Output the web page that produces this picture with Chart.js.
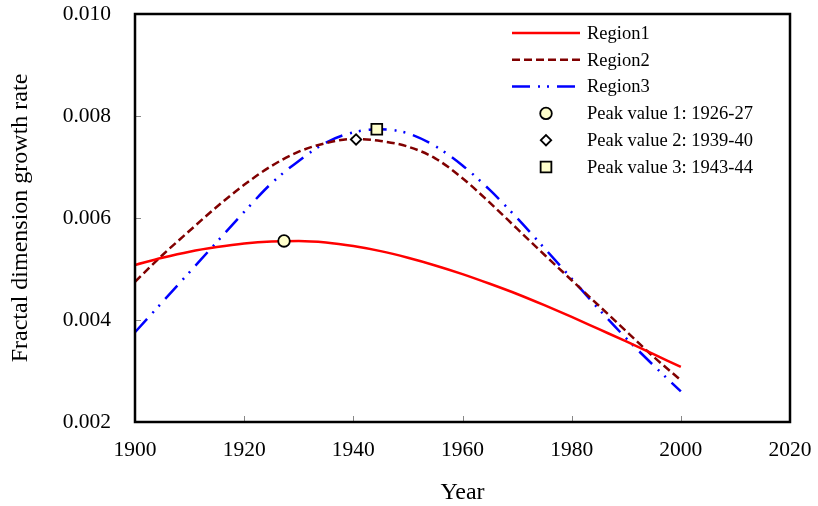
<!DOCTYPE html>
<html>
<head>
<meta charset="utf-8">
<title>Fractal dimension growth rate</title>
<script src="https://cdn.jsdelivr.net/npm/chart.js@4.4.1/dist/chart.umd.min.js"></script>
<style>
    html, body { margin: 0; padding: 0; background: #fff; }
    #wrap { width: 818px; height: 506px; }
</style>
</head>
<body>
<div id="wrap"><canvas id="growthChart" width="818" height="506"></canvas></div>
<script>
// Values
const years = [1900, 1905, 1910, 1915, 1920, 1925, 1930, 1935, 1940, 1945, 1950,
               1955, 1960, 1965, 1970, 1975, 1980, 1985, 1990, 1995, 2000];
const region1 = [0.00508, 0.00522, 0.00534, 0.00543, 0.00550, 0.00554, 0.00555, 0.00552, 0.00545, 0.00535, 0.00522,
                 0.00507, 0.00490, 0.00471, 0.00451, 0.00429, 0.00406, 0.00382, 0.00358, 0.00333, 0.00308];
const region2 = [0.00475, 0.00527, 0.00575, 0.00622, 0.00665, 0.00702, 0.00730, 0.00747, 0.00755, 0.00751, 0.00740,
                 0.00717, 0.00678, 0.00630, 0.00579, 0.00528, 0.00478, 0.00428, 0.00378, 0.00328, 0.00282];
const region3 = [0.00376, 0.00435, 0.00494, 0.00553, 0.00612, 0.00668, 0.00712, 0.00748, 0.00768, 0.00774, 0.00766,
                 0.00741, 0.00703, 0.00655, 0.00600, 0.00541, 0.00481, 0.00421, 0.00364, 0.00311, 0.00260];
const peakYears = [1927.3, 1940.5, 1944.3];
const peakValues = [0.00555, 0.00754, 0.00774];
const seriesLabels = ['Region1', 'Region2', 'Region3'];
const peakLabels = ['Peak value 1: 1926-27', 'Peak value 2: 1939-40', 'Peak value 3: 1943-44'];
const xTicks = [1900, 1920, 1940, 1960, 1980, 2000, 2020];
const yTicks = [0.002, 0.004, 0.006, 0.008, 0.010];

const serif = '"Liberation Serif", "Times New Roman", serif';

const toPoints = (xs, ys) => xs.map((x, i) => ({ x: x, y: ys[i] }));

const lineStyle = (label, values, color, dash) => ({
    label: label,
    data: toPoints(years, values),
    borderColor: color,
    backgroundColor: color,
    borderWidth: 2.5,
    borderDash: dash,
    pointRadius: 0,
    fill: false,
    cubicInterpolationMode: 'monotone',
    order: 2
});

const peakStyle = (i, style, radius, fill) => ({
    label: peakLabels[i],
    data: [{ x: peakYears[i], y: peakValues[i] }],
    showLine: false,
    pointStyle: style,
    pointRadius: radius,
    pointBackgroundColor: fill,
    pointBorderColor: '#000',
    pointBorderWidth: 1.8,
    order: 1
});

const datasets = [
    lineStyle(seriesLabels[0], region1, '#ff0000', []),
    lineStyle(seriesLabels[1], region2, '#800000', [8, 4]),
    lineStyle(seriesLabels[2], region3, '#0000ff', [18, 8, 2, 7, 2, 8]),
    peakStyle(0, 'circle', 5.8, '#ffffcc'),
    peakStyle(1, 'rectRot', 5.2, '#ffffff'),
    peakStyle(2, 'rect', 7.6, '#ffffcc')
];

// drop the extra room chart.js keeps for edge labels
const noEdgePadding = s => {
    s.paddingTop = 0;
    s.paddingBottom = 0;
    s.paddingLeft = 0;
    s.paddingRight = 0;
};

// box round the plot area with short inward ticks
const framePlugin = {
    id: 'frame',
    afterDraw(chart) {
        const { ctx, chartArea: a, scales } = chart;
        ctx.save();
        ctx.strokeStyle = '#888';
        ctx.lineWidth = 1;
        scales.x.ticks.forEach(t => {
            const px = Math.round(scales.x.getPixelForValue(t.value)) + 0.5;
            ctx.beginPath();
            ctx.moveTo(px, a.bottom);
            ctx.lineTo(px, a.bottom - 6);
            ctx.stroke();
        });
        scales.y.ticks.forEach(t => {
            const py = Math.round(scales.y.getPixelForValue(t.value)) + 0.5;
            ctx.beginPath();
            ctx.moveTo(a.left, py);
            ctx.lineTo(a.left + 6, py);
            ctx.stroke();
        });
        ctx.strokeStyle = '#000';
        ctx.lineWidth = 2.5;
        ctx.strokeRect(a.left, a.top, a.right - a.left, a.bottom - a.top);
        ctx.restore();
    }
};

// legend drawn inside the plot, top right
const legendPlugin = {
    id: 'innerLegend',
    afterDraw(chart) {
        const ctx = chart.ctx;
        const x0 = 512, x1 = 580, tx = 587, yStart = 33, rowH = 26.8;
        ctx.save();
        ctx.font = '18.5px ' + serif;
        ctx.textBaseline = 'middle';
        chart.data.datasets.forEach((ds, i) => {
            const y = yStart + i * rowH;
            if (ds.showLine === false) {
                ctx.fillStyle = ds.pointBackgroundColor;
                ctx.strokeStyle = ds.pointBorderColor;
                ctx.lineWidth = ds.pointBorderWidth;
                Chart.helpers.drawPoint(ctx, {
                    pointStyle: ds.pointStyle,
                    radius: ds.pointRadius,
                    rotation: 0,
                    borderWidth: ds.pointBorderWidth
                }, 546, y);
            } else {
                ctx.strokeStyle = ds.borderColor;
                ctx.lineWidth = ds.borderWidth;
                ctx.setLineDash(ds.borderDash);
                ctx.beginPath();
                ctx.moveTo(x0, y);
                ctx.lineTo(x1, y);
                ctx.stroke();
                ctx.setLineDash([]);
            }
            ctx.fillStyle = '#000';
            ctx.fillText(ds.label, tx, y + 1);
        });
        ctx.restore();
    }
};

new Chart(document.getElementById('growthChart'), {
    type: 'line',
    data: { datasets: datasets },
    plugins: [framePlugin, legendPlugin],
    options: {
        responsive: false,
        animation: false,
        devicePixelRatio: 1,
        layout: { padding: { top: 14, right: 28, left: 0, bottom: 0 } },
        plugins: {
            legend: { display: false },
            tooltip: { enabled: false }
        },
        scales: {
            x: {
                type: 'linear',
                min: xTicks[0],
                max: xTicks[xTicks.length - 1],
                afterBuildTicks: s => { s.ticks = xTicks.map(v => ({ value: v })); },
                afterFit: s => { s.height = 84; noEdgePadding(s); },
                grid: { display: false, drawTicks: false },
                border: { display: false },
                ticks: {
                    padding: 15,
                    color: '#000',
                    font: { family: serif, size: 21.5 },
                    callback: v => String(v)
                },
                title: {
                    display: true,
                    text: 'Year',
                    color: '#000',
                    font: { family: serif, size: 24, lineHeight: 1 },
                    padding: { top: 0, bottom: 1 }
                }
            },
            y: {
                min: yTicks[0],
                max: yTicks[yTicks.length - 1],
                afterBuildTicks: s => { s.ticks = yTicks.map(v => ({ value: v })); },
                afterFit: s => { s.width = 135; noEdgePadding(s); },
                grid: { display: false, drawTicks: false },
                border: { display: false },
                ticks: {
                    padding: 24,
                    color: '#000',
                    font: { family: serif, size: 21.5 },
                    callback: v => v.toFixed(3)
                },
                title: {
                    display: true,
                    text: 'Fractal dimension growth rate',
                    color: '#000',
                    font: { family: serif, size: 24, lineHeight: 1 },
                    padding: { top: 9, bottom: 0 }
                }
            }
        }
    }
});
</script>
</body>
</html>
